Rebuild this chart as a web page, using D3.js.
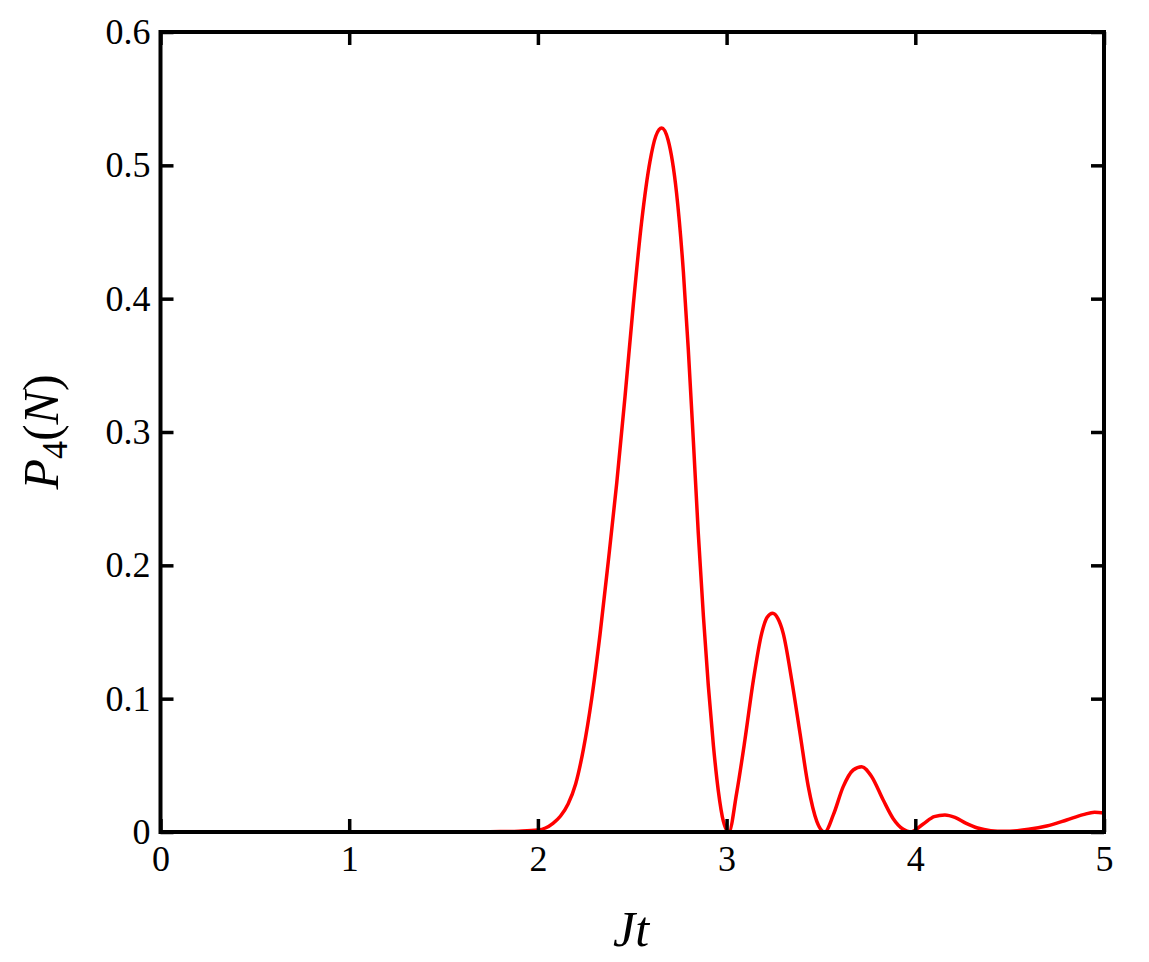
<!DOCTYPE html>
<html>
<head>
<meta charset="utf-8">
<script src="https://cdn.jsdelivr.net/npm/d3@7"></script>
<style>
  body { margin: 0; background: #fff; }
  svg { display: block; }
  .axis text { font-family: "Liberation Serif", "DejaVu Serif", serif; font-size: 36px; fill: #000; }
  .axis line { stroke: #000; stroke-width: 3.5; }
  .axis path { display: none; }
  .label { font-family: "Liberation Serif", "DejaVu Serif", serif; font-style: italic; font-size: 50px; fill: #000; }
</style>
</head>
<body>
<div id="chart"></div>
<script>
// values
var jt = [1.62, 1.70, 1.80, 1.90, 2.00, 2.04, 2.08, 2.12, 2.16, 2.20, 2.241, 2.285, 2.329, 2.373, 2.418, 2.462, 2.506,
  2.550, 2.594, 2.625, 2.656, 2.690, 2.735, 2.771, 2.797, 2.824, 2.850, 2.877, 2.903, 2.930, 2.956, 2.983, 3.012,
  3.053, 3.097, 3.142, 3.186, 3.215, 3.244, 3.272, 3.300, 3.345, 3.389, 3.433, 3.478, 3.520, 3.566, 3.618, 3.671,
  3.716, 3.769, 3.830, 3.883, 3.936, 3.975, 4.042, 4.100, 4.157, 4.210, 4.270, 4.330, 4.400, 4.470, 4.540, 4.600,
  4.696, 4.802, 4.890, 4.950, 5.000];
var p4 = [0, 0.0002, 0.0003, 0.0006, 0.0015, 0.003, 0.0065, 0.012, 0.021, 0.036, 0.062, 0.100, 0.148, 0.203, 0.262, 0.327, 0.396,
  0.458, 0.503, 0.522, 0.528, 0.519, 0.479, 0.420, 0.362, 0.293, 0.224, 0.162, 0.110, 0.065, 0.031, 0.008, 0,
  0.029, 0.069, 0.114, 0.149, 0.161, 0.164, 0.160, 0.149, 0.114, 0.074, 0.034, 0.008, 0, 0.013, 0.034, 0.0465,
  0.049, 0.0415, 0.024, 0.010, 0.002, 0, 0.006, 0.0115, 0.0128, 0.011, 0.0065, 0.003, 0.001, 0.0005, 0.001, 0.002,
  0.0045, 0.009, 0.013, 0.0148, 0.0142];
var xTicks = [0, 1, 2, 3, 4, 5];
var yTicks = [0, 0.1, 0.2, 0.3, 0.4, 0.5, 0.6];

var width = 1149, height = 962;
var pLeft = 160.5, pRight = 1104, pTop = 32, pBottom = 832;

var svg = d3.select("#chart").append("svg")
    .attr("width", width)
    .attr("height", height);

var x = d3.scaleLinear().domain([0, 5]).range([pLeft, pRight]);
var y = d3.scaleLinear().domain([0, 0.6]).range([pBottom, pTop]);

var data = jt.map(function(d, i) { return {t: d, p: p4[i]}; });

svg.append("clipPath").attr("id", "clip")
  .append("rect")
    .attr("x", pLeft).attr("y", pTop)
    .attr("width", pRight - pLeft).attr("height", pBottom - pTop);

var line = d3.line()
    .x(function(d) { return x(d.t); })
    .y(function(d) { return y(d.p); })
    .curve(d3.curveMonotoneX);

svg.append("path")
    .datum(data)
    .attr("clip-path", "url(#clip)")
    .attr("fill", "none")
    .attr("stroke", "#ff0000")
    .attr("stroke-width", 3.5)
    .attr("d", line);

// axes, ticks pointing inwards
svg.append("g").attr("class", "axis")
    .attr("transform", "translate(0," + pBottom + ")")
    .call(d3.axisBottom(x).tickValues(xTicks).tickSizeInner(-13).tickSizeOuter(0).tickPadding(13)
      .tickFormat(function(d) { return d; }));

svg.append("g").attr("class", "axis")
    .attr("transform", "translate(0," + pTop + ")")
    .call(d3.axisTop(x).tickValues(xTicks).tickSizeInner(-13).tickSizeOuter(0).tickFormat(""));

svg.append("g").attr("class", "axis")
    .attr("transform", "translate(" + pLeft + ",0)")
    .call(d3.axisLeft(y).tickValues(yTicks).tickSizeInner(-13).tickSizeOuter(0).tickPadding(10)
      .tickFormat(function(d) { return d === 0 ? "0" : d3.format(".1f")(d); }));

svg.append("g").attr("class", "axis")
    .attr("transform", "translate(" + pRight + ",0)")
    .call(d3.axisRight(y).tickValues(yTicks).tickSizeInner(-13).tickSizeOuter(0).tickFormat(""));

svg.append("rect")
    .attr("x", pLeft).attr("y", pTop)
    .attr("width", pRight - pLeft).attr("height", pBottom - pTop)
    .attr("fill", "none")
    .attr("stroke", "#000")
    .attr("stroke-width", 4);

svg.append("text")
    .attr("class", "label")
    .attr("x", 631)
    .attr("y", 946)
    .attr("text-anchor", "middle")
    .text("Jt");

var yl = svg.append("text")
    .attr("class", "label")
    .attr("font-size", "54px")
    .attr("transform", "translate(58," + ((pTop + pBottom) / 2) + ") rotate(-90)")
    .attr("text-anchor", "middle");
yl.append("tspan").text("P");
yl.append("tspan").attr("font-style", "normal").attr("font-size", "36px").attr("dy", 9).text("4");
yl.append("tspan").attr("font-style", "normal").attr("dy", -9).text("(");
yl.append("tspan").text("N");
yl.append("tspan").attr("font-style", "normal").text(")");
</script>
</body>
</html>
